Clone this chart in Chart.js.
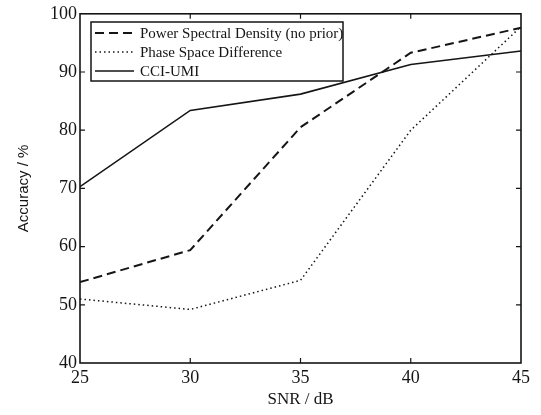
<!DOCTYPE html>
<html>
<head>
<meta charset="utf-8">
<script src="https://cdn.jsdelivr.net/npm/chart.js@4/dist/chart.umd.min.js"></script>
<style>
  html, body { margin: 0; padding: 0; background: #fff; }
  #wrap { width: 541px; height: 415px; }
</style>
</head>
<body>
<div id="wrap"><canvas id="chart" width="541" height="415"></canvas></div>
<script>
const snr = [25, 30, 35, 40, 45];
const psdAcc = [53.9, 59.4, 80.5, 93.3, 97.6];
const phaseAcc = [51.0, 49.2, 54.2, 80.0, 97.8];
const cciAcc = [70.3, 83.4, 86.2, 91.3, 93.6];
const yTicks = [40, 50, 60, 70, 80, 90, 100];

const serif = "'Liberation Serif', 'DejaVu Serif', serif";
const sans = "'Liberation Sans', Arial, sans-serif";
const ink = '#151515';

function toPoints(ys) {
  return snr.map(function (x, i) { return { x: x, y: ys[i] }; });
}

// frame + inward tick marks on all four sides
const framePlugin = {
  id: 'frame',
  afterDraw(chart) {
    const ctx = chart.ctx;
    const a = chart.chartArea;
    const xs = chart.scales.x, ys = chart.scales.y;
    ctx.save();
    ctx.strokeStyle = ink;
    ctx.lineWidth = 1.6;
    ctx.strokeRect(a.left, a.top, a.right - a.left, a.bottom - a.top);
    ctx.lineWidth = 1.2;
    ctx.beginPath();
    snr.slice(1, -1).forEach(function (v) {
      const px = xs.getPixelForValue(v);
      ctx.moveTo(px, a.bottom); ctx.lineTo(px, a.bottom - 5);
      ctx.moveTo(px, a.top); ctx.lineTo(px, a.top + 5);
    });
    yTicks.slice(1, -1).forEach(function (v) {
      const py = ys.getPixelForValue(v);
      ctx.moveTo(a.left, py); ctx.lineTo(a.left + 5, py);
      ctx.moveTo(a.right, py); ctx.lineTo(a.right - 5, py);
    });
    ctx.stroke();
    ctx.restore();
  }
};

// boxed legend in the upper left corner
const legendBox = {
  id: 'legendBox',
  afterDatasetsDraw(chart) {
    const ctx = chart.ctx;
    const bx = 91, by = 22, bw = 252, bh = 59;
    ctx.save();
    ctx.fillStyle = '#fff';
    ctx.fillRect(bx, by, bw, bh);
    ctx.strokeStyle = ink;
    ctx.lineWidth = 1.5;
    ctx.strokeRect(bx, by, bw, bh);
    ctx.font = '15px ' + serif;
    ctx.textBaseline = 'middle';
    chart.data.datasets.forEach(function (ds, i) {
      const y = by + 11 + i * 19;
      ctx.beginPath();
      ctx.setLineDash(ds.borderDash || []);
      ctx.lineWidth = ds.borderWidth;
      ctx.strokeStyle = ds.borderColor;
      ctx.moveTo(bx + 4, y);
      ctx.lineTo(bx + 43, y);
      ctx.stroke();
      ctx.setLineDash([]);
      ctx.fillStyle = ink;
      ctx.fillText(ds.label, bx + 49, y + 1);
    });
    ctx.restore();
  }
};

new Chart(document.getElementById('chart'), {
  type: 'line',
  data: {
    datasets: [
      {
        label: 'Power Spectral Density (no prior)',
        data: toPoints(psdAcc),
        borderColor: ink,
        borderWidth: 2,
        borderDash: [9, 5],
        pointRadius: 0,
        tension: 0
      },
      {
        label: 'Phase Space Difference',
        data: toPoints(phaseAcc),
        borderColor: ink,
        borderWidth: 1.5,
        borderDash: [1.5, 3],
        pointRadius: 0,
        tension: 0
      },
      {
        label: 'CCI-UMI',
        data: toPoints(cciAcc),
        borderColor: ink,
        borderWidth: 1.6,
        pointRadius: 0,
        tension: 0
      }
    ]
  },
  options: {
    responsive: false,
    animation: false,
    layout: { padding: { top: 13, right: 20, left: 0, bottom: 0 } },
    plugins: {
      legend: { display: false },
      tooltip: { enabled: false }
    },
    scales: {
      x: {
        type: 'linear',
        min: 25,
        max: 45,
        afterFit: function (s) { s.height = 52; },
        afterBuildTicks: function (s) { s.ticks = snr.map(function (v) { return { value: v }; }); },
        grid: { display: false, drawTicks: false },
        border: { display: false },
        ticks: { color: ink, padding: 4, font: { family: serif, size: 18 } },
        title: {
          display: true,
          text: 'SNR / dB',
          color: ink,
          font: { family: serif, size: 17 },
          padding: { top: 0, bottom: 5 }
        }
      },
      y: {
        min: 40,
        max: 100,
        afterFit: function (s) { s.width = 80; },
        afterBuildTicks: function (s) { s.ticks = yTicks.map(function (v) { return { value: v }; }); },
        grid: { display: false, drawTicks: false },
        border: { display: false },
        ticks: { color: ink, padding: 3, font: { family: serif, size: 18 } },
        title: {
          display: true,
          text: 'Accuracy / %',
          color: ink,
          font: { family: sans, size: 15 },
          padding: { top: 15, bottom: 0 }
        }
      }
    }
  },
  plugins: [framePlugin, legendBox]
});
</script>
</body>
</html>
